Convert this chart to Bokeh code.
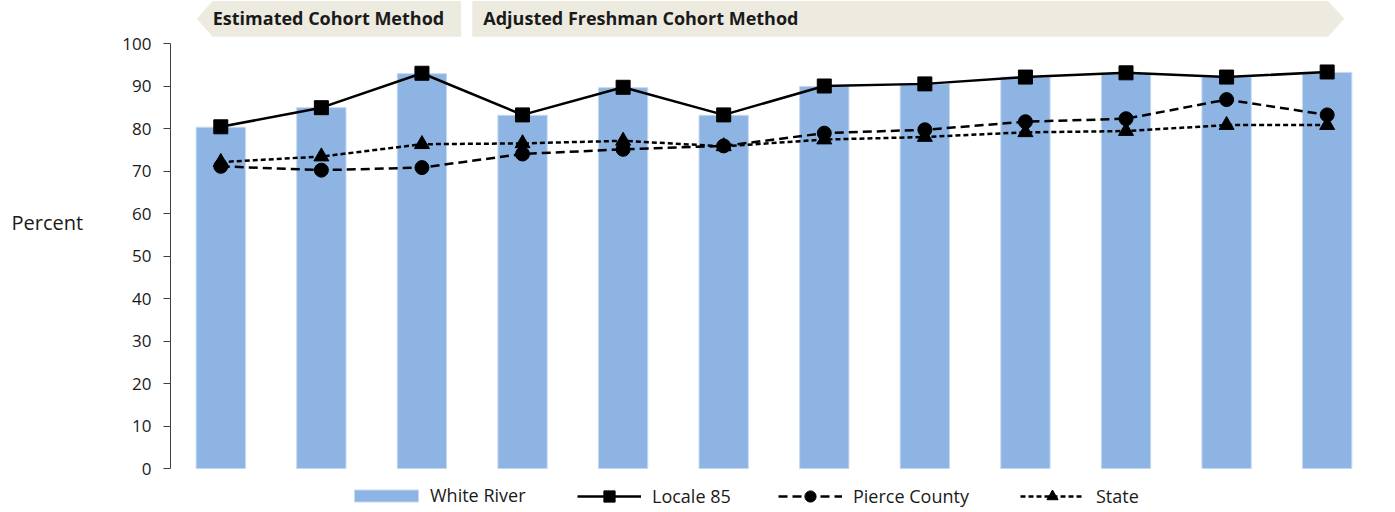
from bokeh.plotting import figure
from bokeh.models import Range1d, Label, Legend, LegendItem, SingleIntervalTicker
from bokeh.embed import file_html
from bokeh.resources import INLINE

# ---------------- data ----------------
categories = ["1", "2", "3", "4", "5", "6", "7", "8", "9", "10", "11", "12"]
white_river = [80.3, 84.9, 92.9, 83.1, 89.6, 83.1, 89.9, 90.5, 92.1, 93.0, 92.1, 93.2]
locale_85 = [80.4, 84.9, 93.0, 83.2, 89.7, 83.2, 90.0, 90.5, 92.1, 93.1, 92.1, 93.3]
pierce_county = [71.1, 70.2, 70.8, 74.0, 75.1, 75.9, 78.9, 79.7, 81.6, 82.3, 86.8, 83.2]
state = [72.1, 73.4, 76.3, 76.5, 77.1, 75.8, 77.4, 78.0, 79.1, 79.4, 80.8, 80.8]

banner_labels = ["Estimated Cohort Method", "Adjusted Freshman Cohort Method"]
banner_start = [0.26, 3.0]      # in category units
banner_end = [2.89, 11.67]
banner_arrow = ["left", "right"]

FONT = "Open Sans"
TXT = "#1a1a1a"

W, H = 1390, 510
PX = 4.25            # px per percent
ZERO_Y = 468         # pixel row of 0 %
AXIS_X = 170         # pixel column of the y axis
CAT_W = 100.58       # px per category
y_top = ZERO_Y / PX
y_bot = -(H - ZERO_Y) / PX
x_left = -AXIS_X / CAT_W
x_right = (W - AXIS_X) / CAT_W

xpos = [i + 0.5 for i in range(len(categories))]

p = figure(width=W, height=H, output_backend="svg", toolbar_location=None,
           x_range=Range1d(x_left, x_right), y_range=Range1d(y_bot, y_top),
           x_axis_location=None,
           min_border_left=0, min_border_right=0, min_border_top=0, min_border_bottom=0)
p.outline_line_color = None
p.grid.visible = False
p.background_fill_color = "white"

ya = p.yaxis[0]
ya.fixed_location = 0
ya.bounds = (0, 100)
ya.ticker = SingleIntervalTicker(interval=10)
ya.minor_tick_line_color = None
ya.major_tick_in = 0
ya.major_tick_out = 7
ya.axis_line_color = "#404040"
ya.major_tick_line_color = "#404040"
ya.major_label_text_font = FONT
ya.major_label_text_font_size = "17px"
ya.major_label_text_color = TXT
ya.major_label_standoff = 12

# banners
arrow_w = 0.16
y_b0, y_b1, y_mid = 101.6, 110.0, 105.8
for lab, s, e, d in zip(banner_labels, banner_start, banner_end, banner_arrow):
    if d == "left":
        xs = [s + arrow_w, s, s + arrow_w, e, e]
        ys = [y_b1, y_mid, y_b0, y_b0, y_b1]
        tx = s + arrow_w
    else:
        xs = [s, s, e - arrow_w, e, e - arrow_w]
        ys = [y_b1, y_b0, y_b0, y_mid, y_b1]
        tx = s + 0.11
    p.patch(xs, ys, fill_color="#EDEBE0", line_color=None)
    p.add_layout(Label(x=tx, y=105.9, text=lab, text_font=FONT, text_font_size="18px",
                       text_font_style="bold", text_color=TXT, text_baseline="middle",
                       text_align="left"))

# bars
bars = p.vbar(x=xpos, top=white_river, bottom=0, width=0.49, fill_color="#8EB4E3",
              line_color="#C5D8F0", line_width=1)

# lines
st_l = p.line(xpos, state, line_color="black", line_width=2.5, line_dash="5 3")
st_m = p.scatter(xpos, state, marker="triangle", size=15, color="black")
pc_l = p.line(xpos, pierce_county, line_color="black", line_width=2.5, line_dash="9 5")
pc_m = p.scatter(xpos, pierce_county, marker="circle", size=14, color="black")
lc_l = p.line(xpos, locale_85, line_color="black", line_width=2.5)
lc_m = p.scatter(xpos, locale_85, marker="square", size=14, color="black")

p.add_layout(Label(x=(11 - AXIS_X) / CAT_W, y=(ZERO_Y - 222) / PX, text="Percent",
                   text_font=FONT, text_font_size="20px", text_color=TXT,
                   text_baseline="middle", text_align="left"))

# legends (one per item to place them precisely)
def mk_legend(label, rends, x, gw, gh, y, standoff):
    lg = Legend(items=[LegendItem(label=label, renderers=rends)], location=(x, y),
                orientation="horizontal", glyph_width=gw, glyph_height=gh,
                label_text_font=FONT, label_text_font_size="18px", label_text_color=TXT,
                label_standoff=standoff, padding=0, margin=0, spacing=0,
                border_line_color=None, background_fill_alpha=0)
    p.add_layout(lg)

mk_legend("White River", [bars], 346, 80, 15, 3, 4)
mk_legend("Locale 85", [lc_l, lc_m], 577, 64, 28, 0, 11)
mk_legend("Pierce County", [pc_l, pc_m], 778, 64, 28, 0, 11)
mk_legend("State", [st_l, st_m], 1020, 64, 28, 0, 12)

open("out.html", "w").write(file_html(p, INLINE))
